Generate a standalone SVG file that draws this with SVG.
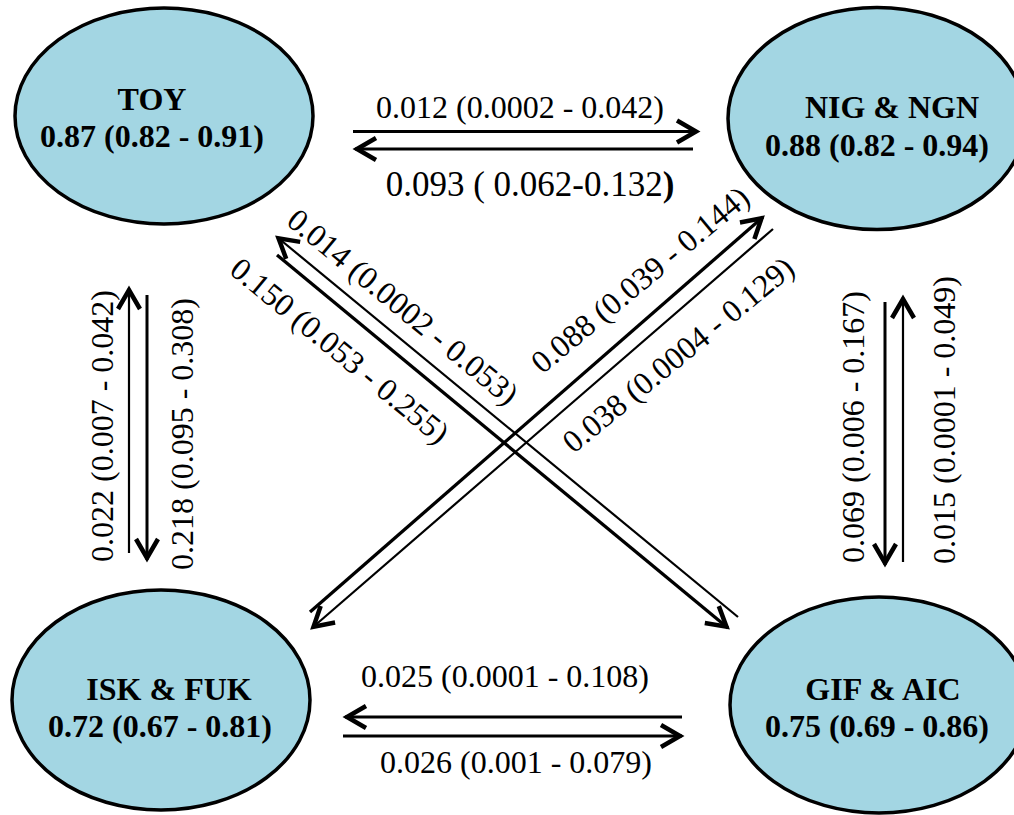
<svg xmlns="http://www.w3.org/2000/svg" width="1014" height="815" viewBox="0 0 1014 815">
<style>
.node{fill:#A3D6E3;stroke:#000;stroke-width:3.5}
.nt{font-family:"Liberation Serif","Times New Roman",serif;font-weight:bold;font-size:32px;fill:#000;text-anchor:middle}
.el{font-family:"Liberation Serif","Times New Roman",serif;font-size:32px;fill:#000;text-anchor:middle}
.c{fill:none;stroke:#000}
.w3{stroke-width:3}
.w2{stroke-width:2.2}
.w33{stroke-width:3.3}
</style>
<defs>
<marker id="ah" markerUnits="userSpaceOnUse" orient="auto" refX="0" refY="0" markerWidth="40" markerHeight="40" overflow="visible">
<path d="M-21,-11 L-2,0 L-21,11" fill="none" stroke="#000" stroke-width="4.5" stroke-linejoin="miter"/>
</marker>
</defs>
<rect width="1014" height="815" fill="#fff"/>
<g id="connectors">
<line class="c w3" x1="353" y1="131.5" x2="698" y2="131.5" marker-end="url(#ah)"/>
<line class="c w3" x1="693" y1="149" x2="355" y2="149" marker-end="url(#ah)"/>
<line class="c w3" x1="682" y1="717" x2="345" y2="717" marker-end="url(#ah)"/>
<line class="c w3" x1="343" y1="736" x2="682" y2="736" marker-end="url(#ah)"/>
<line class="c w2" x1="129" y1="553" x2="129" y2="288" marker-end="url(#ah)"/>
<line class="c w3" x1="147" y1="295" x2="147" y2="560" marker-end="url(#ah)"/>
<line class="c w3" x1="885" y1="302" x2="885" y2="565" marker-end="url(#ah)"/>
<line class="c w2" x1="903" y1="562" x2="903" y2="297" marker-end="url(#ah)"/>
<line class="c w2" x1="738" y1="617" x2="277" y2="237" marker-end="url(#ah)"/>
<line class="c w33" x1="277" y1="255" x2="728" y2="628" marker-end="url(#ah)"/>
<line class="c w33" x1="310" y1="612" x2="763" y2="217" marker-end="url(#ah)"/>
<line class="c w2" x1="773" y1="229" x2="312" y2="628" marker-end="url(#ah)"/>
<text class="el" x="520" y="118">0.012 (0.0002 - 0.042)</text>
<text class="el" x="530" y="196" style="font-size:35px">0.093 ( 0.062-0.132<tspan font-weight="bold">)</tspan></text>
<text class="el" x="505" y="687">0.025 (0.0001 - 0.108)</text>
<text class="el" x="516" y="773">0.026 (0.001 - 0.079)</text>
<text class="el" transform="translate(113,426) rotate(-90)">0.022 (0.007 - 0.042)</text>
<text class="el" transform="translate(193,434) rotate(-90)">0.218 (0.095 - 0.308)</text>
<text class="el" transform="translate(864,427) rotate(-90)">0.069 (0.006 - 0.167)</text>
<text class="el" transform="translate(955,420) rotate(-90)">0.015 (0.0001 - 0.049)</text>
<text class="el" transform="translate(396,315) rotate(39.5)">0.014 (0.0002 - 0.053)</text>
<text class="el" transform="translate(333,359) rotate(39.5)">0.150 (0.053 - 0.255)</text>
<text class="el" transform="translate(647,288) rotate(-39.7)">0.088 (0.039 - 0.144)</text>
<text class="el" transform="translate(685,363) rotate(-39.3)">0.038 (0.0004 - 0.129)</text>
</g>
<g id="node-toy">
<ellipse class="node" cx="164" cy="116" rx="149" ry="108"/>
<text class="nt" x="152" y="110">TOY</text>
<text class="nt" x="152" y="147">0.87 (0.82 - 0.91)</text>
</g>
<g id="node-nig">
<ellipse class="node" cx="877" cy="118.5" rx="149" ry="111"/>
<text class="nt" x="892" y="118">NIG &amp; NGN</text>
<text class="nt" x="877" y="156">0.88 (0.82 - 0.94)</text>
</g>
<g id="node-isk">
<ellipse class="node" cx="161" cy="700" rx="149" ry="110"/>
<text class="nt" x="169" y="700">ISK &amp; FUK</text>
<text class="nt" x="160" y="737">0.72 (0.67 - 0.81)</text>
</g>
<g id="node-gif">
<ellipse class="node" cx="879" cy="705" rx="149" ry="108"/>
<text class="nt" x="883" y="700">GIF &amp; AIC</text>
<text class="nt" x="877" y="737">0.75 (0.69 - 0.86)</text>
</g>
</svg>
